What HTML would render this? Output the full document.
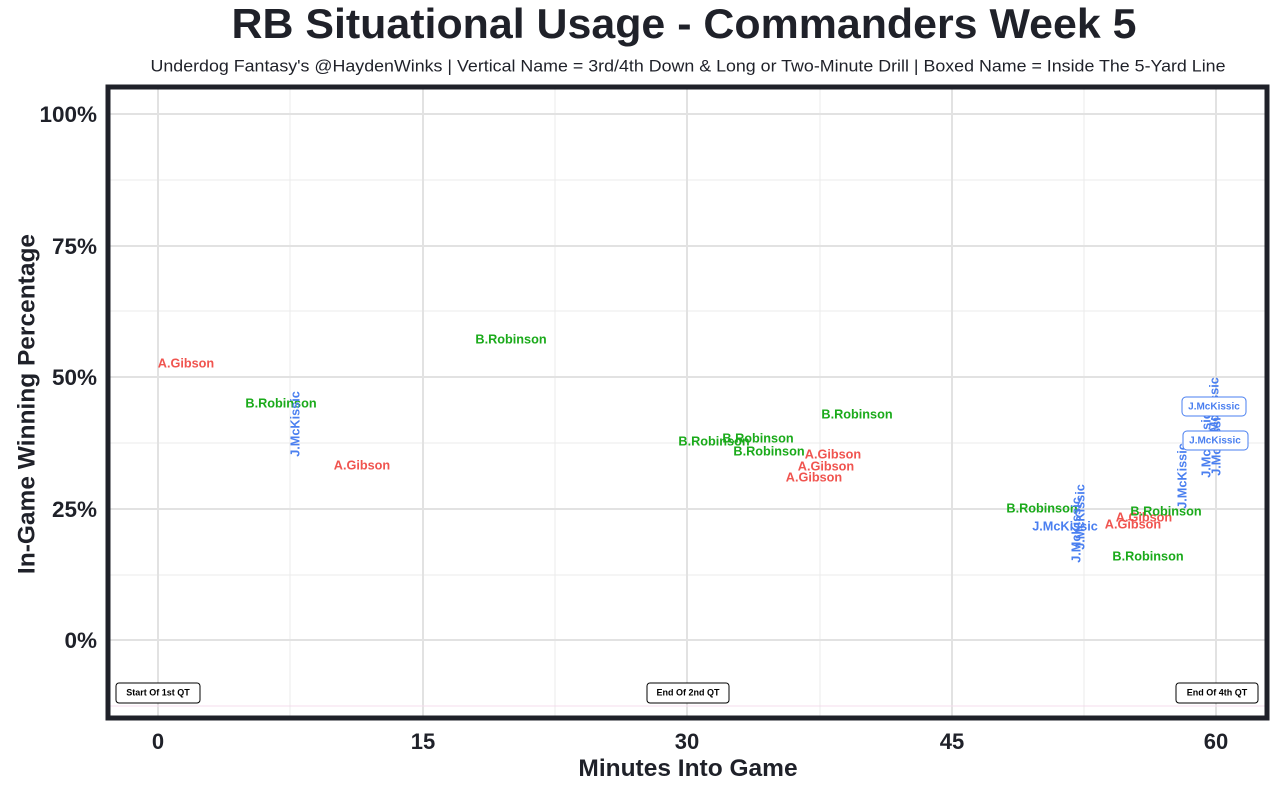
<!DOCTYPE html>
<html><head><meta charset="utf-8"><style>
body{margin:0;background:#fff;}
svg{display:block;font-family:"Liberation Sans",Arial,sans-serif;}
.g{fill:#1aaa1a}.r{fill:#f0544f}.b{fill:#4a7ff0}
.l{font-size:12.7px;font-weight:bold;text-anchor:middle;dominant-baseline:middle}
</style></head><body>
<svg width="1280" height="790" viewBox="0 0 1280 790">
<text x="684" y="27" text-anchor="middle" dominant-baseline="middle" font-size="42" font-weight="bold" fill="#1f2129" textLength="905" lengthAdjust="spacingAndGlyphs">RB Situational Usage - Commanders Week 5</text>
<text x="688" y="67" text-anchor="middle" dominant-baseline="middle" font-size="17" fill="#1f2129" textLength="1075" lengthAdjust="spacingAndGlyphs">Underdog Fantasy's @HaydenWinks | Vertical Name = 3rd/4th Down &amp; Long or Two-Minute Drill | Boxed Name = Inside The 5-Yard Line</text>
<g stroke="#ebebeb" stroke-width="1">
<line x1="290" y1="88" x2="290" y2="718"/><line x1="555" y1="88" x2="555" y2="718"/><line x1="820" y1="88" x2="820" y2="718"/><line x1="1084" y1="88" x2="1084" y2="718"/>
<line x1="109" y1="180" x2="1266" y2="180"/><line x1="109" y1="311" x2="1266" y2="311"/><line x1="109" y1="443" x2="1266" y2="443"/><line x1="109" y1="575" x2="1266" y2="575"/>
</g>
<g stroke="#e2e2e2" stroke-width="2">
<line x1="158" y1="88" x2="158" y2="718"/><line x1="423" y1="88" x2="423" y2="718"/><line x1="687" y1="88" x2="687" y2="718"/><line x1="952" y1="88" x2="952" y2="718"/><line x1="1216" y1="88" x2="1216" y2="718"/>
<line x1="109" y1="114" x2="1266" y2="114"/><line x1="109" y1="246" x2="1266" y2="246"/><line x1="109" y1="377" x2="1266" y2="377"/><line x1="109" y1="509" x2="1266" y2="509"/><line x1="109" y1="640" x2="1266" y2="640"/>
</g>
<line x1="109" y1="706" x2="1266" y2="706" stroke="#f4dcec" stroke-width="1"/>
<rect x="108" y="87" width="1159" height="631" fill="none" stroke="#1f2129" stroke-width="5"/>
<g font-size="22.5" font-weight="bold" fill="#1f2129" text-anchor="end" dominant-baseline="middle">
<text x="97" y="116">100%</text><text x="97" y="248">75%</text><text x="97" y="379">50%</text><text x="97" y="511">25%</text><text x="97" y="642">0%</text>
</g>
<g font-size="22" font-weight="bold" fill="#1f2129" text-anchor="middle">
<text x="158" y="749">0</text><text x="423" y="749">15</text><text x="687" y="749">30</text><text x="952" y="749">45</text><text x="1216" y="749">60</text>
</g>
<text x="688" y="776" text-anchor="middle" font-size="24.5" font-weight="bold" fill="#1f2129">Minutes Into Game</text>
<text transform="translate(28,404) rotate(-90)" text-anchor="middle" dominant-baseline="middle" font-size="24.5" font-weight="bold" fill="#1f2129">In-Game Winning Percentage</text>
<g class="l">
<text class="r" x="186" y="364">A.Gibson</text>
<text class="g" x="281" y="404">B.Robinson</text>
<text class="b" transform="translate(296,424) rotate(-90)">J.McKissic</text>
<text class="r" x="362" y="466">A.Gibson</text>
<text class="g" x="511" y="340">B.Robinson</text>
<text class="g" x="714" y="442">B.Robinson</text>
<text class="g" x="758" y="439">B.Robinson</text>
<text class="g" x="769" y="452">B.Robinson</text>
<text class="g" x="857" y="415">B.Robinson</text>
<text class="r" x="833" y="455">A.Gibson</text>
<text class="r" x="826" y="467">A.Gibson</text>
<text class="r" x="814" y="478">A.Gibson</text>
<text class="g" x="1042" y="509">B.Robinson</text>
<text class="b" x="1065" y="527">J.McKissic</text>
<text class="b" transform="translate(1081,517) rotate(-90)">J.McKissic</text>
<text class="b" transform="translate(1077,530) rotate(-90)">J.McKissic</text>
<text class="r" x="1144" y="518">A.Gibson</text>
<text class="r" x="1133" y="525">A.Gibson</text>
<text class="g" x="1166" y="512">B.Robinson</text>
<text class="g" x="1148" y="557">B.Robinson</text>
<text class="b" transform="translate(1183,476) rotate(-90)">J.McKissic</text>
<text class="b" transform="translate(1207,445) rotate(-90)">J.McKissic</text>
<text class="b" transform="translate(1215,410) rotate(-90)">J.McKissic</text>
<text class="b" transform="translate(1217,443) rotate(-90)">J.McKissic</text>
</g>
<rect x="1182" y="397" width="64" height="19" rx="4" fill="#fff" stroke="#4a7ff0"/>
<text class="b" x="1214" y="407" font-size="10" font-weight="bold" text-anchor="middle" dominant-baseline="middle">J.McKissic</text>
<rect x="1183" y="431" width="65" height="19" rx="4" fill="#fff" stroke="#4a7ff0"/>
<text class="b" x="1215" y="441" font-size="10" font-weight="bold" text-anchor="middle" dominant-baseline="middle">J.McKissic</text>
<g font-size="9" font-weight="bold" fill="#000" text-anchor="middle" dominant-baseline="middle">
<rect x="116" y="683" width="84" height="20" rx="3" fill="#fff" stroke="#000"/><text x="158" y="693">Start Of 1st QT</text>
<rect x="647" y="683" width="82" height="20" rx="3" fill="#fff" stroke="#000"/><text x="688" y="693">End Of 2nd QT</text>
<rect x="1176" y="683" width="82" height="20" rx="3" fill="#fff" stroke="#000"/><text x="1217" y="693">End Of 4th QT</text>
</g>
</svg>
</body></html>
